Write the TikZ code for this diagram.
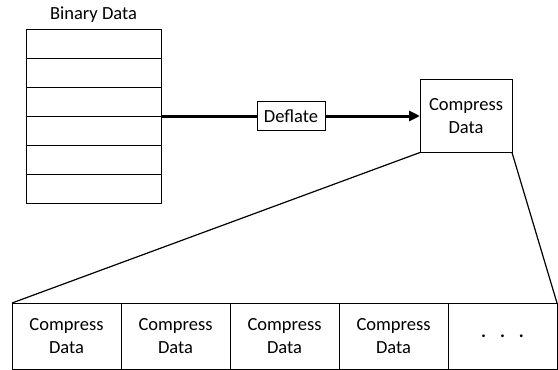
\documentclass[tikz,border=0pt]{standalone}
\usepackage{fontspec}
\setmainfont{Carlito}
\usetikzlibrary{arrows.meta}

\begin{document}
\begin{tikzpicture}[x=1pt, y=-1pt, every node/.style={font=\fontsize{18.5}{22.5}\selectfont},
  row/.style={draw, line width=0.9pt, minimum width=135pt, minimum height=29pt, inner sep=0pt, outer sep=0pt},
  box/.style={draw, line width=0.9pt, align=center, inner sep=0pt, outer sep=0pt},
  cell/.style={box, minimum width=109pt, minimum height=66pt},
  flow/.style={line width=3pt},
  fan/.style={line width=1.2pt}]
  \useasboundingbox (0,0) rectangle (558,370);
  \node (title) at (93.5,15) {Binary Data};
  \foreach \i in {1,...,6}
    \node[row] (r\i) at (93.5,14.5+29*\i) {};
  \node[box, minimum width=68pt, minimum height=29pt] (deflate) at (291,116) {Deflate};
  \node[box, minimum width=92pt, minimum height=73pt] (cd) at (466,116) {Compress\\Data};
  \draw[flow] (r3.south east) -- (deflate.west);
  \draw[flow, -{Triangle[length=11pt, width=10pt]}] (deflate.east) -- (cd.west);
  \foreach \i in {1,...,4}
    \node[cell] (c\i) at (-42.5+109*\i,336) {Compress\\Data};
  \node[cell] (c5) at (502.5,336) {\raisebox{-3pt}{\textbf{.}\hspace{14pt}\textbf{.}\hspace{14pt}\textbf{.}}};
  \draw[fan] (cd.south west) -- (c1.north west);
  \draw[fan] (cd.south east) -- (c5.north east);
\end{tikzpicture}
\end{document}
